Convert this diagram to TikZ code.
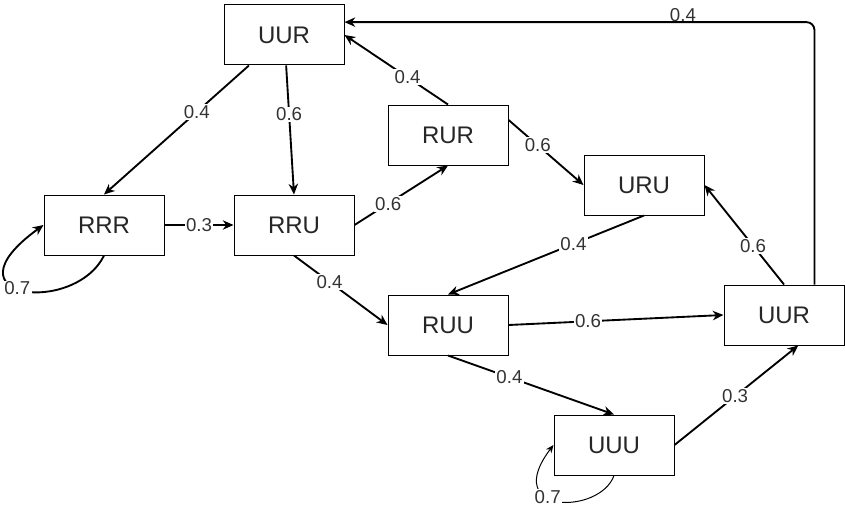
\documentclass[tikz,border=0pt]{standalone}
\usepackage{fontspec}
\setsansfont{Liberation Sans}
\usetikzlibrary{arrows.meta}

\begin{document}
\begin{tikzpicture}[
  x=0.75pt, y=-0.75pt,
  font=\sffamily,
  sbox/.style={rectangle, draw=black, line width=0.75pt, minimum width=90pt, minimum height=45pt,
               inner sep=0pt, fill=white, font=\sffamily\fontsize{18}{20}\selectfont, text=black!85},
  lab/.style={fill=white, inner sep=1pt, font=\sffamily\fontsize{14}{16}\selectfont, text=black!80},
  tr/.style={-{Stealth[length=8pt,width=7pt,inset=2.5pt]}, line width=1.4pt},
  trl/.style={-{Stealth[length=6pt,width=5pt,inset=2pt]}, line width=0.75pt}
]
\useasboundingbox (0,0) rectangle (845,510);

\node[sbox] (uur)  at (284,35)  {UUR};
\node[sbox] (rrr)  at (104,225) {RRR};
\node[sbox] (rru)  at (294,225) {RRU};
\node[sbox] (rur)  at (448,135) {RUR};
\node[sbox] (uru)  at (644,185) {URU};
\node[sbox] (ruu)  at (448,325) {RUU};
\node[sbox] (uur2) at (784,315) {UUR};
\node[sbox] (uuu)  at (614,445) {UUU};

\draw[tr] (uur.221) -- node[lab, pos=0.36] {0.4} (rrr.north);
\draw[tr] (uur.274) -- node[lab, pos=0.38] {0.6} (rru.north);
\draw[tr] (rrr.east) -- node[lab, pos=0.5] {0.3} (rru.west);
\draw[tr] (rrr.south) .. controls (75,315) and (-60,300) .. node[lab, pos=0.55] {0.7} (rrr.west);
\draw[tr] (rru.east) -- node[lab, pos=0.36] {0.6} (rur.south);
\draw[tr] (rur.north) -- node[lab, pos=0.39] {0.4} (uur.east);
\draw[tr] (rur.14) -- node[lab, pos=0.39] {0.6} (uru.west);
\draw[tr] (uru.south) -- node[lab, pos=0.36] {0.4} (ruu.north);
\draw[tr] (rru.south) -- node[lab, pos=0.38] {0.4} (ruu.west);
\draw[tr] (ruu.east) -- node[lab, pos=0.37] {0.6} (uur2.west);
\draw[tr] (ruu.south) -- node[lab, pos=0.37] {0.4} (uuu.north);
\draw[tr] (uuu.east) -- node[lab, pos=0.49] {0.3} (uur2.295);
\draw[trl] (uuu.south) .. controls (600,515) and (500,515) .. node[lab, pos=0.6] {0.7} (uuu.west);
\draw[tr] (uur2.north) -- node[lab, pos=0.39] {0.6} (uru.east);
\draw[tr, rounded corners=6pt] (uur2.45) |- node[lab, fill=none, pos=0.64, yshift=5pt] {0.4} (uur.12);
\end{tikzpicture}
\end{document}
